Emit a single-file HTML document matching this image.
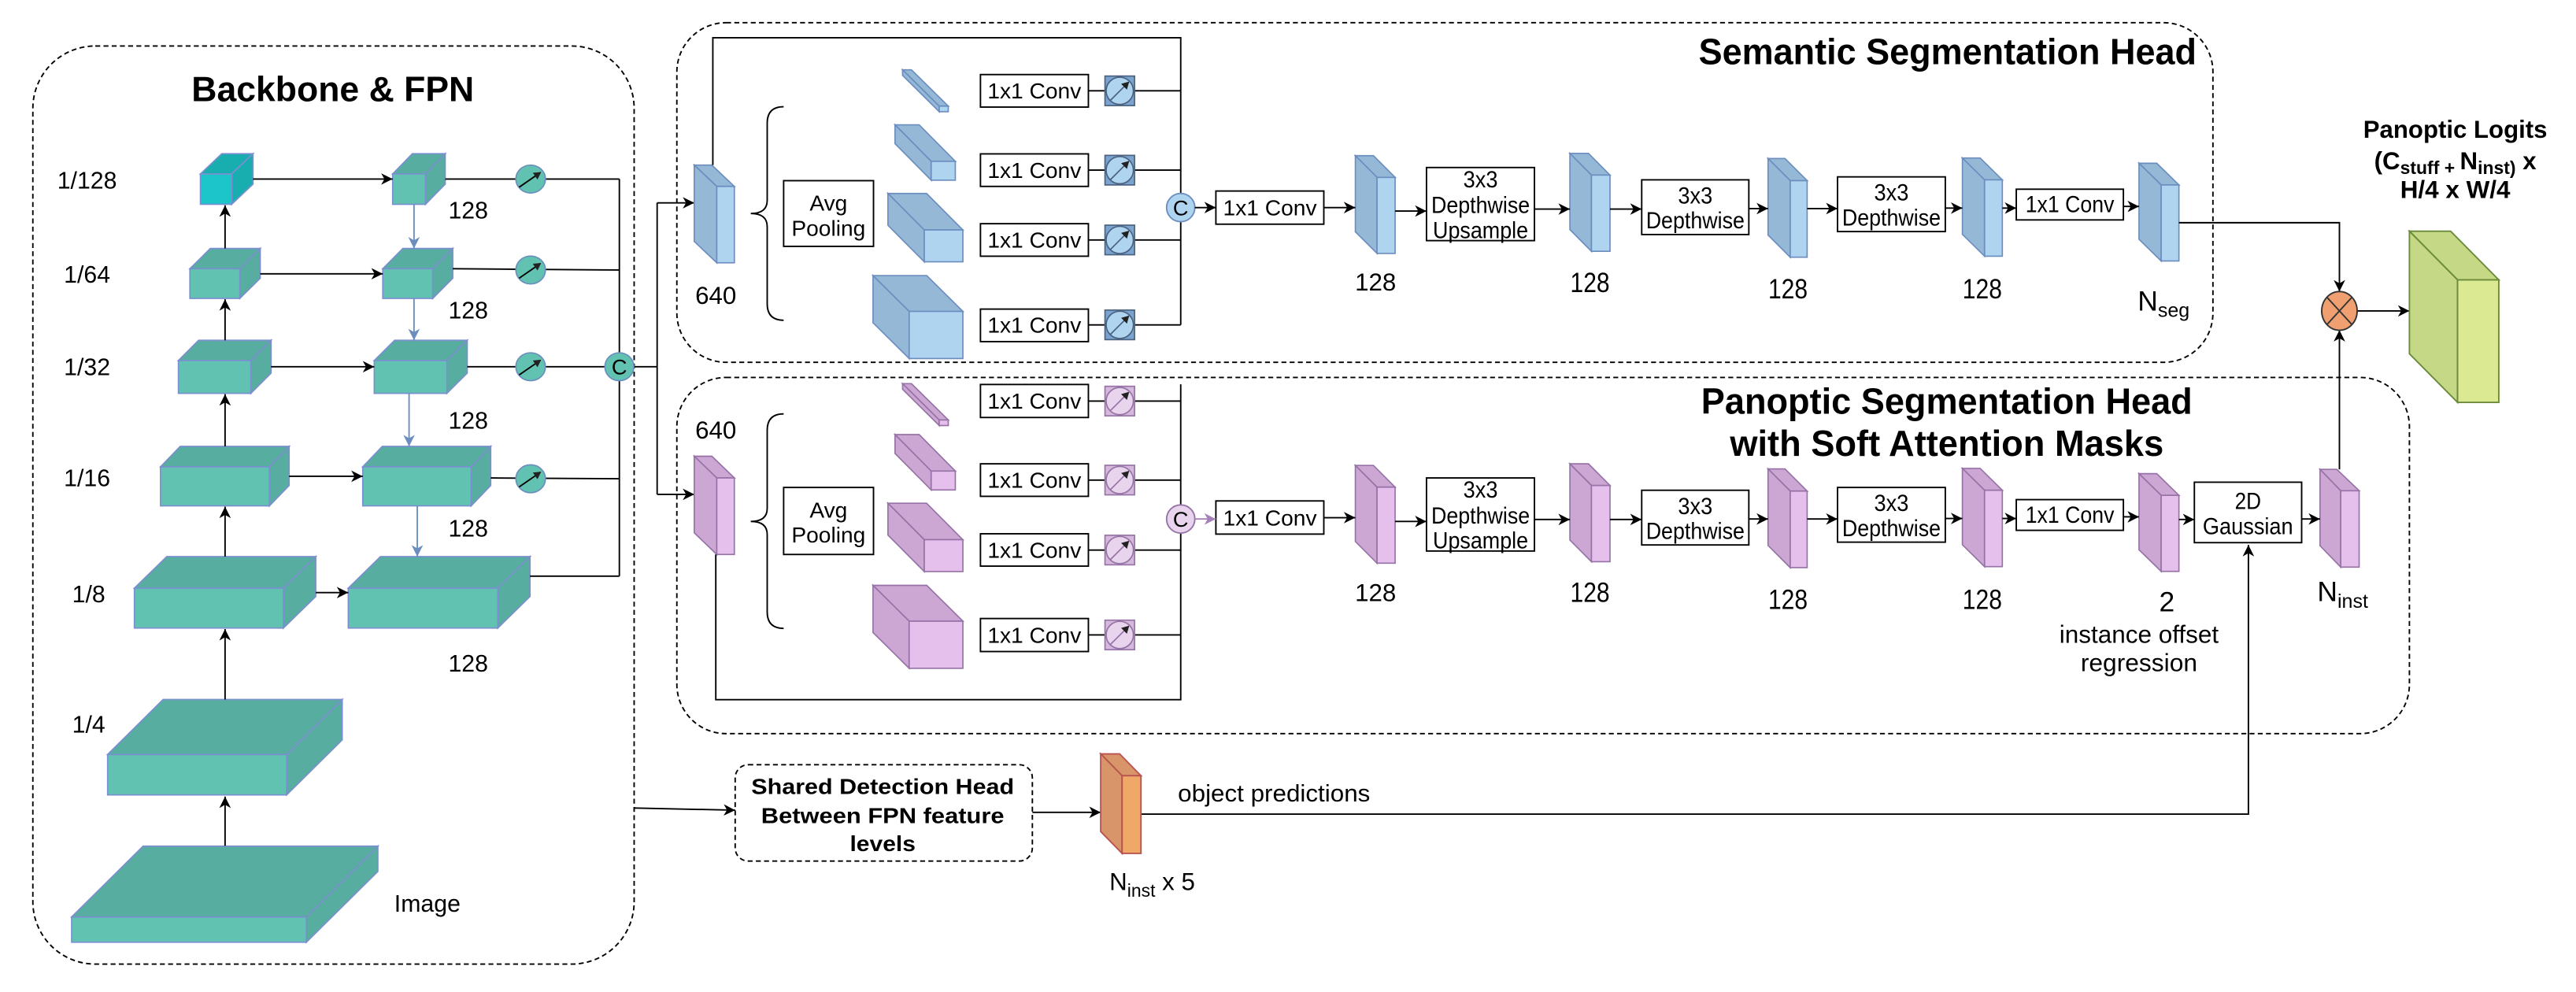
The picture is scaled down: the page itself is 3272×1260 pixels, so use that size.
<!DOCTYPE html>
<html><head><meta charset="utf-8"><style>
html,body{margin:0;padding:0;background:#fff;}
svg{display:block;}
text{font-family:"Liberation Sans",sans-serif;fill:#000;}
.n{font-family:"Liberation Sans Narrow","Liberation Sans",sans-serif;}
</style></head><body>
<svg width="3272" height="1260" viewBox="0 0 1568 604" preserveAspectRatio="none" xmlns="http://www.w3.org/2000/svg">
<defs>
<marker id="a" markerWidth="8" markerHeight="8" refX="7" refY="4" orient="auto" markerUnits="userSpaceOnUse"><path d="M0,0.5 L7,4 L0,7.5 L2,4 z" fill="#000"/></marker>
<marker id="ab" markerWidth="8" markerHeight="8" refX="7" refY="4" orient="auto" markerUnits="userSpaceOnUse"><path d="M0,0.5 L7,4 L0,7.5 L2,4 z" fill="#6c8ebf"/></marker>
<marker id="ap" markerWidth="8" markerHeight="8" refX="7" refY="4" orient="auto" markerUnits="userSpaceOnUse"><path d="M0,0.5 L7,4 L0,7.5 L2,4 z" fill="#a680b8"/></marker>
<marker id="s" markerWidth="5" markerHeight="5" refX="4" refY="2.5" orient="auto" markerUnits="userSpaceOnUse"><path d="M0,0 L4.5,2.5 L0,5 z" fill="#222"/></marker>
</defs>
<rect width="1568" height="604" fill="#fff"/>

<g fill="none" stroke="#000" stroke-width="0.9" stroke-dasharray="3,2">
<rect x="20" y="28" width="366" height="559" rx="38"/>
<rect x="412" y="13.8" width="935" height="206.8" rx="30"/>
<rect x="412" y="229.8" width="1054.6" height="216.9" rx="30"/>
<rect x="447.5" y="465.6" width="180.9" height="58.7" rx="8"/>
</g>

<text x="202.6" y="61.5" font-size="21.5" font-weight="bold" text-anchor="middle" textLength="172" lengthAdjust="spacingAndGlyphs">Backbone &amp; FPN</text>
<g font-size="14.5" text-anchor="middle">
<text x="53" y="114.8">1/128</text><text x="53" y="172">1/64</text><text x="53" y="228.5">1/32</text>
<text x="53" y="296">1/16</text><text x="54" y="366.6">1/8</text><text x="54" y="446">1/4</text>
<text x="285" y="133">128</text><text x="285" y="193.8">128</text><text x="285" y="261">128</text>
<text x="285" y="326.6">128</text><text x="285" y="409">128</text>
</g>
<text x="240" y="555" font-size="14.5">Image</text>

<g stroke="#7b8fd0" stroke-width="0.8">
<g fill="#18aeb0"><polygon points="122,105.9 141,105.9 154,93.6 135,93.6"/><polygon points="141,105.9 154,93.6 154,112.1 141,124.4"/></g>
<rect x="122" y="105.9" width="19" height="18.5" fill="#1cc5c9"/>
<g fill="#57ad9f">
<polygon points="115.6,163.6 146,163.6 158.4,151.3 128,151.3"/><polygon points="146,163.6 158.4,151.3 158.4,169.4 146,181.7"/>
<polygon points="108.6,219.5 152.7,219.5 165,207.2 120.9,207.2"/><polygon points="152.7,219.5 165,207.2 165,227.2 152.7,239.5"/>
<polygon points="97.7,284.2 164,284.2 176,271.8 109.7,271.8"/><polygon points="164,284.2 176,271.8 176,295.6 164,308"/>
<polygon points="81.8,358.1 172.5,358.1 192.2,338.9 101.5,338.9"/><polygon points="172.5,358.1 192.2,338.9 192.2,363.2 172.5,382.4"/>
<polygon points="65.5,459.4 174.5,459.4 208.3,425.9 99.3,425.9"/><polygon points="174.5,459.4 208.3,425.9 208.3,450.5 174.5,484"/>
<polygon points="43.6,558.3 186.5,558.3 230,515.2 87.1,515.2"/><polygon points="186.5,558.3 230,515.2 230,530.6 186.5,573.7"/>
<polygon points="239,105.9 259,105.9 271,93.6 251,93.6"/><polygon points="259,105.9 271,93.6 271,112.1 259,124.4"/>
<polygon points="233,163.6 263.4,163.6 275.6,151.3 245.2,151.3"/><polygon points="263.4,163.6 275.6,151.3 275.6,169.4 263.4,181.7"/>
<polygon points="227.8,219.5 272,219.5 284.4,207.2 240.2,207.2"/><polygon points="272,219.5 284.4,207.2 284.4,227.2 272,239.5"/>
<polygon points="220.8,284.2 286.8,284.2 298.7,271.8 232.7,271.8"/><polygon points="286.8,284.2 298.7,271.8 298.7,295.6 286.8,308"/>
<polygon points="212,358.1 303,358.1 322.6,338.9 231.6,338.9"/><polygon points="303,358.1 322.6,338.9 322.6,363.2 303,382.4"/>
</g>
<g fill="#62c2b1">
<rect x="115.6" y="163.6" width="30.4" height="18.1"/><rect x="108.6" y="219.5" width="44.1" height="20"/>
<rect x="97.7" y="284.2" width="66.3" height="23.8"/><rect x="81.8" y="358.1" width="90.7" height="24.3"/>
<rect x="65.5" y="459.4" width="109" height="24.6"/><rect x="43.6" y="558.3" width="142.9" height="15.4"/>
<rect x="239" y="105.9" width="20" height="18.5"/><rect x="233" y="163.6" width="30.4" height="18.1"/>
<rect x="227.8" y="219.5" width="44.2" height="20"/><rect x="220.8" y="284.2" width="66" height="23.8"/>
<rect x="212" y="358.1" width="91" height="24.3"/>
</g>
</g>

<g stroke="#000" stroke-width="0.9" fill="none">
<line x1="137" y1="515" x2="137" y2="485" marker-end="url(#a)"/>
<line x1="137" y1="425.9" x2="137" y2="383" marker-end="url(#a)"/>
<line x1="137" y1="338.9" x2="137" y2="308.5" marker-end="url(#a)"/>
<line x1="137" y1="271.8" x2="137" y2="240" marker-end="url(#a)"/>
<line x1="137" y1="207.2" x2="137" y2="182.2" marker-end="url(#a)"/>
<line x1="137" y1="151.3" x2="137" y2="125" marker-end="url(#a)"/>
<line x1="154" y1="109" x2="239" y2="109" marker-end="url(#a)"/>
<line x1="158.4" y1="166.7" x2="233" y2="166.7" marker-end="url(#a)"/>
<line x1="165" y1="223.3" x2="227.8" y2="223.3" marker-end="url(#a)"/>
<line x1="176" y1="290" x2="220.8" y2="290" marker-end="url(#a)"/>
<line x1="192.2" y1="360.8" x2="212" y2="360.8" marker-end="url(#a)"/>
<polyline points="271,109 377,109"/><polyline points="275.6,163.6 377,164.4"/>
<polyline points="284.4,223.3 377,223.3"/><polyline points="298.7,291 377,291.5"/>
<polyline points="322.6,350.8 377,350.8"/>
<line x1="377" y1="109" x2="377" y2="350.8"/>
<polyline points="386,223.3 400,223.3"/>
<line x1="400" y1="123.5" x2="400" y2="301"/>
<line x1="400" y1="123.5" x2="422.6" y2="123.5" marker-end="url(#a)"/>
<line x1="400" y1="301" x2="422.6" y2="301" marker-end="url(#a)"/>
<line x1="386" y1="492" x2="447.5" y2="493.3" marker-end="url(#a)"/>
</g>
<g stroke="#6c8ebf" stroke-width="0.9">
<line x1="252" y1="124.4" x2="252" y2="151.3" marker-end="url(#ab)"/>
<line x1="252" y1="181.7" x2="252" y2="207.2" marker-end="url(#ab)"/>
<line x1="249" y1="239.5" x2="249" y2="271.8" marker-end="url(#ab)"/>
<line x1="254" y1="308" x2="254" y2="338.9" marker-end="url(#ab)"/>
</g>
<g stroke="#6c8ebf" stroke-width="0.8" fill="#62c2b1">
<ellipse cx="323" cy="109" rx="9" ry="8.5"/><ellipse cx="323" cy="164.4" rx="9" ry="8.5"/>
<ellipse cx="323" cy="223.3" rx="9" ry="8.5"/><ellipse cx="323" cy="291.5" rx="9" ry="8.5"/>
<ellipse cx="377" cy="223.3" rx="8.8" ry="8.5"/>
</g>
<g stroke="#000" stroke-width="0.9">
<line x1="316" y1="114" x2="329" y2="105" marker-end="url(#s)"/>
<line x1="316" y1="169.4" x2="329" y2="160.4" marker-end="url(#s)"/>
<line x1="316" y1="228.3" x2="329" y2="219.3" marker-end="url(#s)"/>
<line x1="316" y1="296.5" x2="329" y2="287.5" marker-end="url(#s)"/>
</g>
<text x="377" y="228" font-size="13" text-anchor="middle">C</text>

<g stroke="#6c8ebf" stroke-width="0.8">
<g fill="#94b8d6">
<polygon points="422.6,100.5 433.3,100.5 447,113.5 436.3,113.5"/><polygon points="422.6,100.5 436.3,113.5 436.3,160 422.6,147"/>
<polygon points="549.4,42.5 554.8,42.5 577.2,64.6 571.7,64.6"/><polygon points="549.4,42.5 571.7,64.6 571.7,68 549.4,45.9"/>
<polygon points="544.8,76 559.5,76 581.5,98.2 566.8,98.2"/><polygon points="544.8,76 566.8,98.2 566.8,109.7 544.8,87.5"/>
<polygon points="540.5,117.8 564,117.8 586.1,140 562.6,140"/><polygon points="540.5,117.8 562.6,140 562.6,159.4 540.5,137.2"/>
<polygon points="531.4,167.8 564.1,167.8 586.1,189.6 553.4,189.6"/><polygon points="531.4,167.8 553.4,189.6 553.4,218.3 531.4,196.5"/>
<polygon points="825,94.8 836,94.8 849.2,108 838.2,108"/><polygon points="825,94.8 838.2,108 838.2,154.3 825,141.1"/>
</g>
<g fill="#aed4ef">
<rect x="436.3" y="113.5" width="10.7" height="46.5"/><rect x="571.7" y="64.6" width="5.5" height="3.4"/>
<rect x="566.8" y="98.2" width="14.7" height="11.5"/><rect x="562.6" y="140" width="23.5" height="19.4"/>
<rect x="553.4" y="189.6" width="32.7" height="28.7"/><rect x="838.2" y="108" width="11" height="46.3"/>
</g>
</g>
<g stroke="#9673a6" stroke-width="0.8">
<g fill="#cda7d3">
<polygon points="422.6,277.8 433.3,277.8 447,291 436.3,291"/><polygon points="422.6,277.8 436.3,291 436.3,337.6 422.6,324.4"/>
<g transform="translate(0,188.6)">
<polygon points="549.4,45 554.8,45 577.2,67.1 571.7,67.1"/><polygon points="549.4,45 571.7,67.1 571.7,70.5 549.4,48.4"/>
<polygon points="544.8,76 559.5,76 581.5,98.2 566.8,98.2"/><polygon points="544.8,76 566.8,98.2 566.8,109.7 544.8,87.5"/>
<polygon points="540.5,117.8 564,117.8 586.1,140 562.6,140"/><polygon points="540.5,117.8 562.6,140 562.6,159.4 540.5,137.2"/>
<polygon points="531.4,167.8 564.1,167.8 586.1,189.6 553.4,189.6"/><polygon points="531.4,167.8 553.4,189.6 553.4,218.3 531.4,196.5"/>
<polygon points="825,94.8 836,94.8 849.2,108 838.2,108"/><polygon points="825,94.8 838.2,108 838.2,154.3 825,141.1"/>
</g></g>
<g fill="#e6c0ec">
<rect x="436.3" y="291" width="10.7" height="46.6"/>
<g transform="translate(0,188.6)">
<rect x="571.7" y="67.1" width="5.5" height="3.4"/><rect x="566.8" y="98.2" width="14.7" height="11.5"/>
<rect x="562.6" y="140" width="23.5" height="19.4"/><rect x="553.4" y="189.6" width="32.7" height="28.7"/>
<rect x="838.2" y="108" width="11" height="46.3"/>
</g></g>
</g>

<g fill="none" stroke="#000" stroke-width="0.9">
<path d="M477,65 Q467,65 467,75 L467,122 Q467,130 457,130 Q467,130 467,138 L467,185 Q467,195 477,195"/>
<path d="M477,252 Q467,252 467,262 L467,309.5 Q467,317.5 457,317.5 Q467,317.5 467,325.5 L467,372.6 Q467,382.6 477,382.6"/>
</g>

<g fill="none" stroke="#000" stroke-width="0.9">
<polyline points="433.9,100.5 433.9,23 718.7,23 718.7,197.8"/>
<polyline points="435.7,337.6 435.7,426 718.7,426 718.7,234"/>
<line x1="662.5" y1="55.3" x2="718.7" y2="55.3"/><line x1="662.5" y1="103.6" x2="718.7" y2="103.6"/>
<line x1="662.5" y1="146.1" x2="718.7" y2="146.1"/><line x1="662.5" y1="197.8" x2="718.7" y2="197.8"/>
<line x1="662.5" y1="244.2" x2="718.7" y2="244.2"/><line x1="662.5" y1="292.3" x2="718.7" y2="292.3"/>
<line x1="662.5" y1="334.9" x2="718.7" y2="334.9"/><line x1="662.5" y1="386.6" x2="718.7" y2="386.6"/>
</g>
<g fill="#fff" stroke="#000" stroke-width="0.9">
<rect x="596.8" y="45.4" width="65.7" height="19.8"/><rect x="596.8" y="93.7" width="65.7" height="19.8"/>
<rect x="596.8" y="136.2" width="65.7" height="19.8"/><rect x="596.8" y="188.2" width="65.7" height="19.8"/>
<rect x="596.8" y="234.1" width="65.7" height="20.1"/><rect x="596.8" y="282.4" width="65.7" height="19.8"/>
<rect x="596.8" y="325" width="65.7" height="19.7"/><rect x="596.8" y="376.6" width="65.7" height="20.1"/>
<rect x="477" y="110" width="54.7" height="40"/><rect x="477" y="296.8" width="54.7" height="40.8"/>
<rect x="740.1" y="116.3" width="65.7" height="20.2"/><rect x="740.1" y="305" width="65.7" height="20.2"/>
</g>
<g stroke="#4a6180" stroke-width="0.8">
<g fill="#7aa3cf"><rect x="672.6" y="46.3" width="18" height="18"/><rect x="672.6" y="94.6" width="18" height="18"/><rect x="672.6" y="137.1" width="18" height="18"/><rect x="672.6" y="188.8" width="18" height="18"/></g>
<g fill="#aed4ef"><circle cx="681.6" cy="55.3" r="8.3"/><circle cx="681.6" cy="103.6" r="8.3"/><circle cx="681.6" cy="146.1" r="8.3"/><circle cx="681.6" cy="197.8" r="8.3"/></g>
<line x1="676" y1="61" x2="687" y2="50" marker-end="url(#s)"/><line x1="676" y1="109.3" x2="687" y2="98.3" marker-end="url(#s)"/>
<line x1="676" y1="151.8" x2="687" y2="140.8" marker-end="url(#s)"/><line x1="676" y1="203.5" x2="687" y2="192.5" marker-end="url(#s)"/>
</g>
<g stroke="#9673a6" stroke-width="0.8">
<g fill="#d5b8db"><rect x="672.6" y="235.2" width="18" height="18"/><rect x="672.6" y="283.3" width="18" height="18"/><rect x="672.6" y="325.9" width="18" height="18"/><rect x="672.6" y="377.6" width="18" height="18"/></g>
<g fill="#e8d4ec"><circle cx="681.6" cy="244.2" r="8.3"/><circle cx="681.6" cy="292.3" r="8.3"/><circle cx="681.6" cy="334.9" r="8.3"/><circle cx="681.6" cy="386.6" r="8.3"/></g>
<line x1="676" y1="249.9" x2="687" y2="238.9" marker-end="url(#s)"/><line x1="676" y1="298" x2="687" y2="287" marker-end="url(#s)"/>
<line x1="676" y1="340.6" x2="687" y2="329.6" marker-end="url(#s)"/><line x1="676" y1="392.3" x2="687" y2="381.3" marker-end="url(#s)"/>
</g>
<circle cx="718.7" cy="126.4" r="8.6" fill="#aed4ef" stroke="#6c8ebf" stroke-width="0.9"/>
<circle cx="718.7" cy="316" r="8.6" fill="#e8d4ec" stroke="#9673a6" stroke-width="0.9"/>
<text x="718.7" y="131" font-size="13" text-anchor="middle">C</text>
<text x="718.7" y="320.6" font-size="13" text-anchor="middle">C</text>
<g stroke="#000" stroke-width="0.9">
<line x1="727.3" y1="126.4" x2="740.1" y2="126.4" marker-end="url(#a)"/>
<line x1="805.8" y1="126.4" x2="825" y2="126.4" marker-end="url(#a)"/>
<line x1="805.8" y1="315.2" x2="825" y2="315.2" marker-end="url(#a)"/>
</g>
<line x1="727.3" y1="316" x2="740.1" y2="316" stroke="#a680b8" stroke-width="0.9" marker-end="url(#ap)"/>

<g font-size="13.5" text-anchor="middle">
<text x="629.6" y="60">1x1 Conv</text><text x="629.6" y="108.3">1x1 Conv</text>
<text x="629.6" y="150.8">1x1 Conv</text><text x="629.6" y="202.6">1x1 Conv</text>
<text x="629.6" y="248.9">1x1 Conv</text><text x="629.6" y="297">1x1 Conv</text>
<text x="629.6" y="339.6">1x1 Conv</text><text x="629.6" y="391.3">1x1 Conv</text>
<text x="504.3" y="128.3">Avg</text><text x="504.3" y="143.6">Pooling</text>
<text x="504.3" y="315.1">Avg</text><text x="504.3" y="330.3">Pooling</text>
<text x="773" y="131.2">1x1 Conv</text><text x="773" y="319.9">1x1 Conv</text>
</g>
<g font-size="15" text-anchor="middle">
<text x="435.7" y="185">640</text><text x="435.7" y="267">640</text>
<text x="837.3" y="177">128</text><text x="837.3" y="366">128</text>
</g>

<g>
<g stroke="#6c8ebf" stroke-width="0.8" fill="#94b8d6">
<polygon points="955.6,93.4 966.9,93.4 980,106.6 968.7,106.6"/><polygon points="955.6,93.4 968.7,106.6 968.7,153 955.6,139.8"/>
<polygon points="1076.2,96.5 1086.5,96.5 1100,110 1089.7,110"/><polygon points="1076.2,96.5 1089.7,110 1089.7,156.6 1076.2,143.1"/>
<polygon points="1194.5,96.2 1205.3,96.2 1218.8,109.5 1208,109.5"/><polygon points="1194.5,96.2 1208,109.5 1208,156 1194.5,142.7"/>
<polygon points="1302,99.4 1312.8,99.4 1326.3,112.6 1315.5,112.6"/><polygon points="1302,99.4 1315.5,112.6 1315.5,158.9 1302,145.7"/>
</g>
<g stroke="#6c8ebf" stroke-width="0.8" fill="#aed4ef">
<rect x="968.7" y="106.6" width="11.3" height="46.4"/><rect x="1089.7" y="110" width="10.3" height="46.6"/>
<rect x="1208" y="109.5" width="10.8" height="46.5"/><rect x="1315.5" y="112.6" width="10.8" height="46.3"/>
</g>
</g>
<g transform="translate(0,189)">
<g stroke="#9673a6" stroke-width="0.8" fill="#cda7d3">
<polygon points="955.6,93.4 966.9,93.4 980,106.6 968.7,106.6"/><polygon points="955.6,93.4 968.7,106.6 968.7,153 955.6,139.8"/>
<polygon points="1076.2,96.5 1086.5,96.5 1100,110 1089.7,110"/><polygon points="1076.2,96.5 1089.7,110 1089.7,156.6 1076.2,143.1"/>
<polygon points="1194.5,96.2 1205.3,96.2 1218.8,109.5 1208,109.5"/><polygon points="1194.5,96.2 1208,109.5 1208,156 1194.5,142.7"/>
<polygon points="1302,99.4 1312.8,99.4 1326.3,112.6 1315.5,112.6"/><polygon points="1302,99.4 1315.5,112.6 1315.5,158.9 1302,145.7"/>
<polygon points="1412.2,96.8 1422.4,96.8 1436,109.8 1424.8,109.8"/><polygon points="1412.2,96.8 1424.8,109.8 1424.8,156.3 1412.2,143.3"/>
</g>
<g stroke="#9673a6" stroke-width="0.8" fill="#e6c0ec">
<rect x="968.7" y="106.6" width="11.3" height="46.4"/><rect x="1089.7" y="110" width="10.3" height="46.6"/>
<rect x="1208" y="109.5" width="10.8" height="46.5"/><rect x="1315.5" y="112.6" width="10.8" height="46.3"/>
<rect x="1424.8" y="109.8" width="11.2" height="46.5"/>
</g>
</g>
<g fill="#fff" stroke="#000" stroke-width="0.9">
<rect x="868.3" y="102" width="65.7" height="44.5"/><rect x="999.3" y="109.5" width="65.2" height="33.3"/>
<rect x="1118.5" y="107.7" width="65.6" height="33.3"/><rect x="1227.3" y="115.2" width="65.2" height="18.7"/>
<rect x="868.3" y="291" width="65.7" height="44.5"/><rect x="999.3" y="298.5" width="65.2" height="33.3"/>
<rect x="1118.5" y="296.8" width="65.6" height="33.3"/><rect x="1227.3" y="304.2" width="65.2" height="18.7"/>
<rect x="1335.7" y="293.6" width="65.3" height="36.8"/>
</g>
<g stroke="#000" stroke-width="0.9" fill="none">
<line x1="849.2" y1="128.5" x2="868.3" y2="128.5" marker-end="url(#a)"/>
<line x1="934" y1="127.3" x2="955.6" y2="127.3" marker-end="url(#a)"/>
<line x1="980" y1="127.3" x2="999.3" y2="127.3" marker-end="url(#a)"/>
<line x1="1064.5" y1="127" x2="1076.2" y2="127" marker-end="url(#a)"/>
<line x1="1100" y1="127" x2="1118.5" y2="127" marker-end="url(#a)"/>
<line x1="1184.1" y1="126.7" x2="1194.5" y2="126.7" marker-end="url(#a)"/>
<line x1="1218.8" y1="126.7" x2="1227.3" y2="126.7" marker-end="url(#a)"/>
<line x1="1292.5" y1="125.7" x2="1302" y2="125.7" marker-end="url(#a)"/>
<line x1="849.2" y1="317.5" x2="868.3" y2="317.5" marker-end="url(#a)"/>
<line x1="934" y1="316.3" x2="955.6" y2="316.3" marker-end="url(#a)"/>
<line x1="980" y1="316.3" x2="999.3" y2="316.3" marker-end="url(#a)"/>
<line x1="1064.5" y1="316" x2="1076.2" y2="316" marker-end="url(#a)"/>
<line x1="1100" y1="316" x2="1118.5" y2="316" marker-end="url(#a)"/>
<line x1="1184.1" y1="315.7" x2="1194.5" y2="315.7" marker-end="url(#a)"/>
<line x1="1218.8" y1="315.7" x2="1227.3" y2="315.7" marker-end="url(#a)"/>
<line x1="1292.5" y1="314.7" x2="1302" y2="314.7" marker-end="url(#a)"/>
<line x1="1326.3" y1="316.3" x2="1335.7" y2="316.3" marker-end="url(#a)"/>
<line x1="1401" y1="316" x2="1412.2" y2="316" marker-end="url(#a)"/>
<polyline points="1326.3,135.6 1424,135.6 1424,177.5" marker-end="url(#a)"/>
<line x1="1424" y1="285.8" x2="1424" y2="201" marker-end="url(#a)"/>
<line x1="1435" y1="189.3" x2="1466.6" y2="189.3" marker-end="url(#a)"/>
<line x1="628.4" y1="494.6" x2="670" y2="494.6" marker-end="url(#a)"/>
<polyline points="694.5,495.7 1368.6,495.7 1368.6,331.8" marker-end="url(#a)"/>
</g>
<ellipse cx="1424" cy="189.3" rx="10.8" ry="11.8" fill="#f0a070" stroke="#333" stroke-width="0.9"/>
<g stroke="#333" stroke-width="0.9"><line x1="1416.4" y1="181" x2="1431.6" y2="197.6"/><line x1="1431.6" y1="181" x2="1416.4" y2="197.6"/></g>

<g stroke="#6b8a3a" stroke-width="0.9">
<polygon points="1466.6,140.8 1491.7,140.8 1521,170.4 1495.9,170.4" fill="#c5d886"/>
<polygon points="1466.6,140.8 1495.9,170.4 1495.9,245 1466.6,215.4" fill="#c5d886"/>
<rect x="1495.9" y="170.4" width="25.1" height="74.6" fill="#dbea92"/>
</g>
<g stroke="#b85450" stroke-width="0.9">
<polygon points="670,459 681.5,459 694.5,472.3 683,472.3" fill="#d9956a"/>
<polygon points="670,459 683,472.3 683,519.6 670,506.3" fill="#d9956a"/>
<rect x="683" y="472.3" width="11.5" height="47.3" fill="#f0a868"/>
</g>

<g>
<text class="n" x="1337" y="39" font-size="22" font-weight="bold" text-anchor="end" textLength="303" lengthAdjust="spacingAndGlyphs">Semantic Segmentation Head</text>
<text class="n" x="1185" y="252" font-size="22" font-weight="bold" text-anchor="middle" textLength="299" lengthAdjust="spacingAndGlyphs">Panoptic Segmentation Head</text>
<text class="n" x="1185" y="277.5" font-size="22" font-weight="bold" text-anchor="middle" textLength="264" lengthAdjust="spacingAndGlyphs">with Soft Attention Masks</text>
<text class="n" x="1494.5" y="84" font-size="15" font-weight="bold" text-anchor="middle" textLength="112" lengthAdjust="spacingAndGlyphs">Panoptic Logits</text>
<text class="n" x="1494.5" y="103" font-size="15" font-weight="bold" text-anchor="middle">(C<tspan font-size="11" dy="3">stuff + </tspan><tspan dy="-3">N</tspan><tspan font-size="11" dy="3">inst)</tspan><tspan dy="-3"> x</tspan></text>
<text class="n" x="1494.5" y="120.5" font-size="15" font-weight="bold" text-anchor="middle" textLength="67" lengthAdjust="spacingAndGlyphs">H/4 x W/4</text>
<g font-size="14" text-anchor="middle">
<text class="n" x="901.2" y="114" textLength="21" lengthAdjust="spacingAndGlyphs">3x3</text><text class="n" x="901.2" y="129.7" textLength="60" lengthAdjust="spacingAndGlyphs">Depthwise</text><text class="n" x="901.2" y="144.9" textLength="58" lengthAdjust="spacingAndGlyphs">Upsample</text>
<text class="n" x="1031.9" y="124" textLength="21" lengthAdjust="spacingAndGlyphs">3x3</text><text class="n" x="1031.9" y="139.1" textLength="60" lengthAdjust="spacingAndGlyphs">Depthwise</text>
<text class="n" x="1151.3" y="122" textLength="21" lengthAdjust="spacingAndGlyphs">3x3</text><text class="n" x="1151.3" y="137.4" textLength="60" lengthAdjust="spacingAndGlyphs">Depthwise</text>
<text class="n" x="1259.9" y="129.3" textLength="54" lengthAdjust="spacingAndGlyphs">1x1 Conv</text>
<g transform="translate(0,189)">
<text class="n" x="901.2" y="114" textLength="21" lengthAdjust="spacingAndGlyphs">3x3</text><text class="n" x="901.2" y="129.7" textLength="60" lengthAdjust="spacingAndGlyphs">Depthwise</text><text class="n" x="901.2" y="144.9" textLength="58" lengthAdjust="spacingAndGlyphs">Upsample</text>
<text class="n" x="1031.9" y="124" textLength="21" lengthAdjust="spacingAndGlyphs">3x3</text><text class="n" x="1031.9" y="139.1" textLength="60" lengthAdjust="spacingAndGlyphs">Depthwise</text>
<text class="n" x="1151.3" y="122" textLength="21" lengthAdjust="spacingAndGlyphs">3x3</text><text class="n" x="1151.3" y="137.4" textLength="60" lengthAdjust="spacingAndGlyphs">Depthwise</text>
<text class="n" x="1259.9" y="129.3" textLength="54" lengthAdjust="spacingAndGlyphs">1x1 Conv</text>
</g>
<text class="n" x="1368.3" y="310" textLength="16" lengthAdjust="spacingAndGlyphs">2D</text><text class="n" x="1368.3" y="325.3" textLength="55" lengthAdjust="spacingAndGlyphs">Gaussian</text>
</g>
<g font-size="17" text-anchor="middle">
<text class="n" x="967.8" y="177.8" textLength="24" lengthAdjust="spacingAndGlyphs">128</text><text class="n" x="1088.3" y="181.8" textLength="24" lengthAdjust="spacingAndGlyphs">128</text><text class="n" x="1206.6" y="181.8" textLength="24" lengthAdjust="spacingAndGlyphs">128</text>
<text class="n" x="967.8" y="366.5" textLength="24" lengthAdjust="spacingAndGlyphs">128</text><text class="n" x="1088.3" y="370.8" textLength="24" lengthAdjust="spacingAndGlyphs">128</text><text class="n" x="1206.6" y="370.8" textLength="24" lengthAdjust="spacingAndGlyphs">128</text>
<text class="n" x="1319" y="372.3">2</text>
<text class="n" x="1317" y="189">N<tspan font-size="12" dy="4">seg</tspan></text>
<text class="n" x="1426" y="366">N<tspan font-size="12" dy="4">inst</tspan></text>
</g>
<g font-size="15" text-anchor="middle">
<text class="n" x="1302" y="391.5" textLength="97" lengthAdjust="spacingAndGlyphs">instance offset</text><text class="n" x="1302" y="408.7" textLength="71" lengthAdjust="spacingAndGlyphs">regression</text>
</g>
<g font-size="13.5" font-weight="bold" text-anchor="middle">
<text class="n" x="537.3" y="483.5" textLength="160" lengthAdjust="spacingAndGlyphs">Shared Detection Head</text>
<text class="n" x="537.3" y="501.2" textLength="148" lengthAdjust="spacingAndGlyphs">Between FPN feature</text>
<text class="n" x="537.3" y="518.2" textLength="40" lengthAdjust="spacingAndGlyphs">levels</text>
</g>
<text class="n" x="717" y="488" font-size="14.5" textLength="117" lengthAdjust="spacingAndGlyphs">object predictions</text>
<text class="n" x="675.3" y="542" font-size="15">N<tspan font-size="11" dy="4">inst</tspan><tspan dy="-4"> x 5</tspan></text>
</g>
</svg>
</body></html>
